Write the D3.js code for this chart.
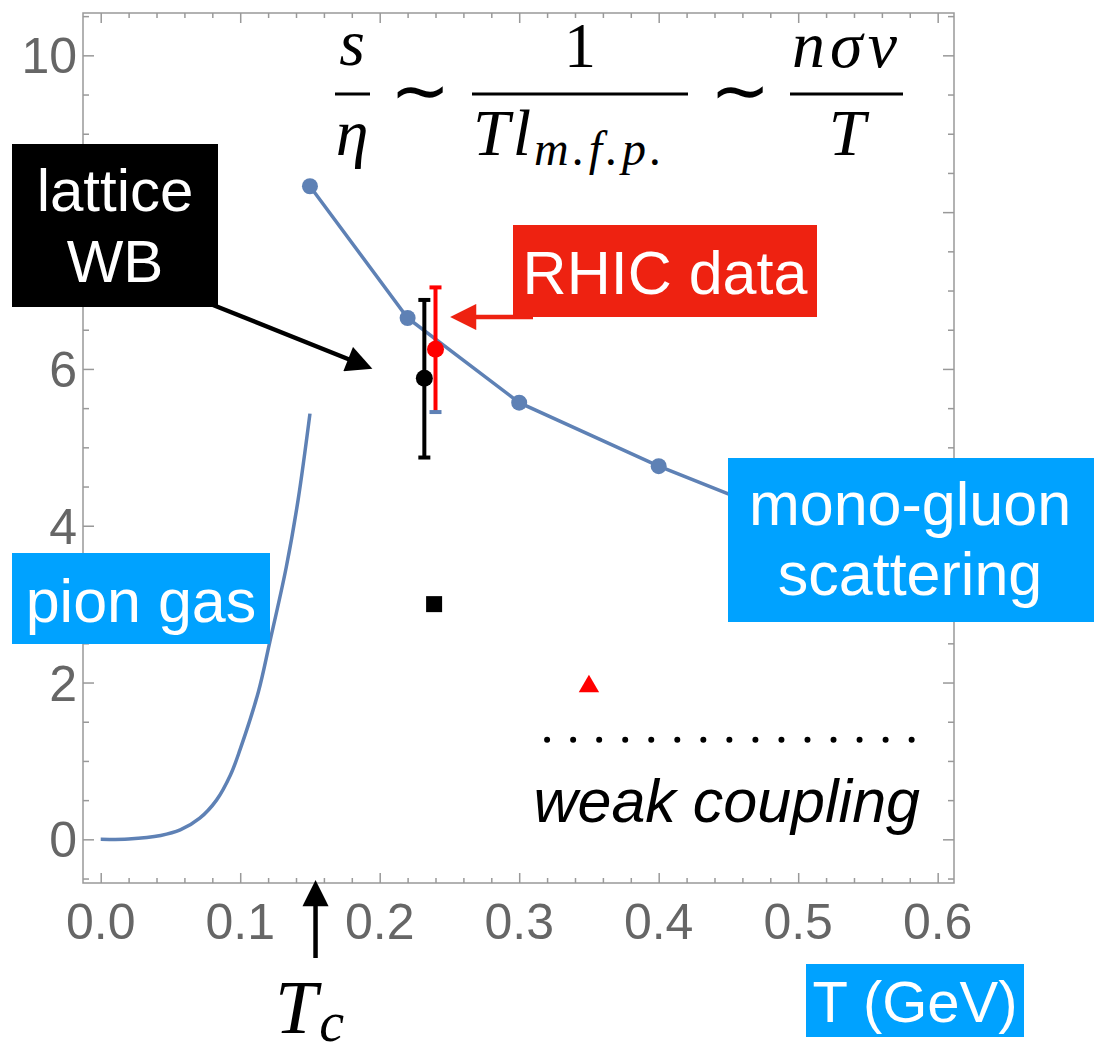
<!DOCTYPE html>
<html>
<head>
	<script src="https://cdn.jsdelivr.net/npm/d3@7"></script>
	<style>
		html, body {
			padding: 0;
			margin: 0;
			background: #ffffff;
		}
	</style>
</head>
<body>
	<script>
		// values
		var pionT = [0, 0.02, 0.043, 0.057, 0.071, 0.083, 0.093, 0.1, 0.113, 0.121, 0.133, 0.1415, 0.15];
		var pionS = [0, 0.005, 0.05, 0.12, 0.27, 0.5, 0.82, 1.15, 1.88, 2.5, 3.47, 4.33, 5.43];

		var monoT = [0.15, 0.22, 0.3, 0.4, 0.5];
		var monoS = [8.33, 6.65, 5.57, 4.76, 4.05];

		var latticeT = 0.232, latticeS = 5.88, latticeLo = 4.87, latticeHi = 6.88;
		var rhicT = 0.24, rhicS = 6.25, rhicLo = 5.45, rhicHi = 7.04;
		var squareT = 0.239, squareS = 3.0;
		var triangleT = 0.35, triangleS = 1.95;

		var weakS = 1.27, weakFrom = 0.32, weakTo = 0.6;
		var Tc = 0.154;

		var xTicks = [0, 0.1, 0.2, 0.3, 0.4, 0.5, 0.6];
		var xTickLabels = ["0.0", "0.1", "0.2", "0.3", "0.4", "0.5", "0.6"];
		var yTicks = [0, 2, 4, 6, 8, 10];
		// the 8 is hidden under the "lattice WB" box
		var yTickLabels = ["0", "2", "4", "6", "", "10"];

		var width = 1094, height = 1052;
		var blue = '#5E81B5', boxBlue = '#00A2FF', boxRed = '#EE2211';

		var svg = d3.select('body').append('svg')
			.attr('width', width)
			.attr('height', height)
			.style('background-color', '#ffffff');

		var x = d3.scaleLinear().domain([-0.0127, 0.6117]).range([83, 954]);
		var y = d3.scaleLinear().domain([-0.557, 10.54]).range([883, 13]);

		var xMinor = d3.range(0, 0.6001, 0.02).filter(function (v) { return Math.abs(v * 10 - Math.round(v * 10)) > 1e-6; });
		var yMinor = d3.range(-0.5, 10.5001, 0.5).filter(function (v) { return v % 2 !== 0; });

		// frame with inward ticks on all four sides
		function axisStyle(g) {
			g.select('.domain').remove();
			g.selectAll('line').attr('stroke', '#999999').attr('stroke-width', 1.5);
			g.selectAll('text').remove();
		}
		var x0 = x.range()[0], x1 = x.range()[1], y0 = y.range()[0], y1 = y.range()[1];

		svg.append('g').attr('transform', 'translate(0,' + y0 + ')')
			.call(d3.axisBottom(x).tickValues(xTicks).tickSize(-10)).call(axisStyle);
		svg.append('g').attr('transform', 'translate(0,' + y0 + ')')
			.call(d3.axisBottom(x).tickValues(xMinor).tickSize(-5)).call(axisStyle);
		svg.append('g').attr('transform', 'translate(0,' + y1 + ')')
			.call(d3.axisTop(x).tickValues(xTicks).tickSize(-10)).call(axisStyle);
		svg.append('g').attr('transform', 'translate(0,' + y1 + ')')
			.call(d3.axisTop(x).tickValues(xMinor).tickSize(-5)).call(axisStyle);
		svg.append('g').attr('transform', 'translate(' + x0 + ',0)')
			.call(d3.axisLeft(y).tickValues(yTicks).tickSize(-11)).call(axisStyle);
		svg.append('g').attr('transform', 'translate(' + x0 + ',0)')
			.call(d3.axisLeft(y).tickValues(yMinor).tickSize(-6)).call(axisStyle);
		svg.append('g').attr('transform', 'translate(' + x1 + ',0)')
			.call(d3.axisRight(y).tickValues(yTicks).tickSize(-11)).call(axisStyle);
		svg.append('g').attr('transform', 'translate(' + x1 + ',0)')
			.call(d3.axisRight(y).tickValues(yMinor).tickSize(-6)).call(axisStyle);

		svg.append('rect')
			.attr('x', x0).attr('y', y1)
			.attr('width', x1 - x0).attr('height', y0 - y1)
			.attr('fill', 'none').attr('stroke', '#999999').attr('stroke-width', 1.5);

		// tick labels
		svg.selectAll('.xlab').data(xTicks).enter().append('text')
			.attr('x', function (d) { return x(d); })
			.attr('y', 939)
			.attr('text-anchor', 'middle')
			.style('font-family', 'Liberation Sans, Arial, sans-serif')
			.style('font-size', '50px')
			.style('fill', '#666666')
			.text(function (d, i) { return xTickLabels[i]; });

		svg.selectAll('.ylab').data(yTicks).enter().append('text')
			.attr('x', 77)
			.attr('y', function (d) { return y(d) + 18; })
			.attr('text-anchor', 'end')
			.style('font-family', 'Liberation Sans, Arial, sans-serif')
			.style('font-size', '50px')
			.style('fill', '#666666')
			.text(function (d, i) { return yTickLabels[i]; });

		// pion gas curve
		var pion = pionT.map(function (t, i) { return [t, pionS[i]]; });
		svg.append('path')
			.datum(pion)
			.attr('d', d3.line().x(function (d) { return x(d[0]); }).y(function (d) { return y(d[1]); }).curve(d3.curveCatmullRom.alpha(0.5)))
			.attr('fill', 'none').attr('stroke', blue).attr('stroke-width', 3.5);

		// mono-gluon scattering line
		var mono = monoT.map(function (t, i) { return [t, monoS[i]]; });
		svg.append('path')
			.datum(mono)
			.attr('d', d3.line().x(function (d) { return x(d[0]); }).y(function (d) { return y(d[1]); }))
			.attr('fill', 'none').attr('stroke', blue).attr('stroke-width', 3.5);
		svg.selectAll('.mono').data(mono).enter().append('circle')
			.attr('cx', function (d) { return x(d[0]); })
			.attr('cy', function (d) { return y(d[1]); })
			.attr('r', 8).attr('fill', blue);

		// weak coupling dots
		var weakLen = x(weakTo) - x(weakFrom);
		svg.append('line')
			.attr('x1', x(weakFrom)).attr('x2', x(weakTo))
			.attr('y1', y(weakS)).attr('y2', y(weakS))
			.attr('stroke', '#000000').attr('stroke-width', 6)
			.attr('stroke-linecap', 'round')
			.attr('stroke-dasharray', '0,' + (weakLen / 15));

		// error bars
		function errorBar(t, lo, hi, color, capLoColor) {
			svg.append('line')
				.attr('x1', x(t)).attr('x2', x(t))
				.attr('y1', y(hi)).attr('y2', y(lo))
				.attr('stroke', color).attr('stroke-width', 4);
			svg.append('line')
				.attr('x1', x(t) - 6).attr('x2', x(t) + 6)
				.attr('y1', y(hi)).attr('y2', y(hi))
				.attr('stroke', color).attr('stroke-width', 4);
			svg.append('line')
				.attr('x1', x(t) - 6).attr('x2', x(t) + 6)
				.attr('y1', y(lo)).attr('y2', y(lo))
				.attr('stroke', capLoColor).attr('stroke-width', 4);
		}
		errorBar(latticeT, latticeLo, latticeHi, '#000000', '#000000');
		svg.append('circle').attr('cx', x(latticeT)).attr('cy', y(latticeS)).attr('r', 8.5).attr('fill', '#000000');

		errorBar(rhicT, rhicLo, rhicHi, '#FF0000', blue);
		svg.append('circle').attr('cx', x(rhicT)).attr('cy', y(rhicS)).attr('r', 8.5).attr('fill', '#FF0000');

		// square and triangle
		svg.append('rect')
			.attr('x', x(squareT) - 8).attr('y', y(squareS) - 8)
			.attr('width', 16).attr('height', 16).attr('fill', '#000000');
		svg.append('path')
			.attr('transform', 'translate(' + x(triangleT) + ',' + y(triangleS) + ')')
			.attr('d', d3.symbol().type(d3.symbolTriangle).size(180))
			.attr('fill', '#FF0000');

		// arrow heads
		var defs = svg.append('defs');
		function marker(id, color) {
			defs.append('marker')
				.attr('id', id)
				.attr('viewBox', '0 0 10 10')
				.attr('refX', 2).attr('refY', 5)
				.attr('markerWidth', 6).attr('markerHeight', 5.8)
				.attr('markerUnits', 'strokeWidth')
				.attr('orient', 'auto')
				.append('path').attr('d', 'M0,0 L10,5 L0,10 z').attr('fill', color);
		}
		marker('headBlack', '#000000');
		marker('headRed', boxRed);

		// labels
		var labelFont = 'Liberation Sans, Arial, Helvetica, sans-serif';

		svg.append('line')
			.attr('x1', 213).attr('y1', 305).attr('x2', 353).attr('y2', 361)
			.attr('stroke', '#000000').attr('stroke-width', 4.5)
			.attr('marker-end', 'url(#headBlack)');
		svg.append('rect').attr('x', 12).attr('y', 144).attr('width', 206).attr('height', 163).attr('fill', '#000000');
		var lat = svg.append('text').attr('text-anchor', 'middle')
			.style('font-family', labelFont).style('font-size', '60px').style('fill', '#ffffff');
		lat.append('tspan').attr('x', 115).attr('y', 211).text('lattice');
		lat.append('tspan').attr('x', 115).attr('y', 282).text('WB');

		svg.append('line')
			.attr('x1', 533).attr('y1', 317).attr('x2', 471).attr('y2', 317)
			.attr('stroke', boxRed).attr('stroke-width', 4.5)
			.attr('marker-end', 'url(#headRed)');
		svg.append('rect').attr('x', 513).attr('y', 225).attr('width', 304).attr('height', 92).attr('fill', boxRed);
		svg.append('text').attr('x', 665).attr('y', 294).attr('text-anchor', 'middle')
			.style('font-family', labelFont).style('font-size', '61px').style('fill', '#ffffff').text('RHIC data');

		svg.append('rect').attr('x', 12).attr('y', 553).attr('width', 258).attr('height', 91).attr('fill', boxBlue);
		svg.append('text').attr('x', 141).attr('y', 622).attr('text-anchor', 'middle')
			.style('font-family', labelFont).style('font-size', '61px').style('fill', '#ffffff').text('pion gas');

		svg.append('rect').attr('x', 728).attr('y', 458).attr('width', 366).attr('height', 164).attr('fill', boxBlue);
		var mg = svg.append('text').attr('text-anchor', 'middle')
			.style('font-family', labelFont).style('font-size', '61px').style('fill', '#ffffff');
		mg.append('tspan').attr('x', 910).attr('y', 525).text('mono-gluon');
		mg.append('tspan').attr('x', 910).attr('y', 595).text('scattering');

		svg.append('text').attr('x', 920).attr('y', 822).attr('text-anchor', 'end')
			.style('font-family', labelFont).style('font-size', '61px').style('font-style', 'italic')
			.style('fill', '#000000').text('weak coupling');

		svg.append('rect').attr('x', 806).attr('y', 964).attr('width', 218).attr('height', 73).attr('fill', boxBlue);
		svg.append('text').attr('x', 915).attr('y', 1022).attr('text-anchor', 'middle')
			.style('font-family', labelFont).style('font-size', '58px').style('fill', '#ffffff').text('T (GeV)');

		// T_c arrow and label
		svg.append('line')
			.attr('x1', x(Tc)).attr('y1', 958).attr('x2', x(Tc)).attr('y2', 901)
			.attr('stroke', '#000000').attr('stroke-width', 4.5)
			.attr('marker-end', 'url(#headBlack)');
		var mathFont = 'Liberation Serif, Times New Roman, serif';
		var tc = svg.append('text').attr('x', 275).attr('y', 1033)
			.style('font-family', mathFont).style('font-style', 'italic').style('fill', '#000000');
		tc.append('tspan').style('font-size', '76px').text('T');
		tc.append('tspan').attr('dy', 8).attr('dx', 2).style('font-size', '56px').text('c');

		// formula s/eta ~ 1/(T l_mfp) ~ n sigma v / T
		function mtext(tx, ty, str, size, italic, anchor) {
			return svg.append('text').attr('x', tx).attr('y', ty)
				.attr('text-anchor', anchor || 'middle')
				.style('font-family', mathFont)
				.style('font-style', italic ? 'italic' : 'normal')
				.style('font-size', size + 'px')
				.style('fill', '#000000')
				.text(str);
		}
		function bar(a, b) {
			svg.append('line').attr('x1', a).attr('x2', b).attr('y1', 94).attr('y2', 94)
				.attr('stroke', '#000000').attr('stroke-width', 2.8);
		}
		mtext(352, 65, 's', 66, true);
		bar(335, 370);
		mtext(352, 155, 'η', 66, true);
		mtext(420, 115, '∼', 72, false);
		mtext(580, 67, '1', 64, false);
		bar(472, 688);
		var tl = mtext(473, 155, '', 66, true, 'start');
		tl.append('tspan').style('letter-spacing', '3px').text('Tl');
		tl.append('tspan').attr('dy', 10).style('font-size', '48px').style('letter-spacing', '4px').text('m.f.p.');
		mtext(740, 115, '∼', 72, false);
		mtext(847, 67, 'nσv', 66, true).style('letter-spacing', '5px');
		bar(790, 903);
		mtext(847, 155, 'T', 66, true);
	</script>
</body>
</html>
